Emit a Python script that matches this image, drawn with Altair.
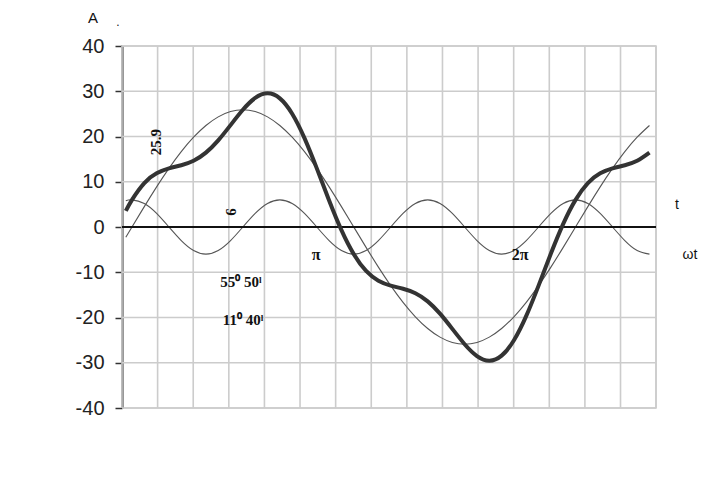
import altair as alt
import pandas as pd

# angle omega*t in degrees (0 = upward zero of the fundamental)
theta = [-5, 0, 10, 20, 30, 40, 50, 60, 70, 80, 90, 100, 110, 120, 130, 140, 150,
         160, 170, 180, 190, 200, 210, 220, 230, 240, 250, 260, 270, 280, 290, 300,
         310, 320, 330, 340, 350, 360, 370, 380, 390, 400, 410, 420]

# fundamental, amplitude 25.9
fundamental = [-2.26, 0, 4.50, 8.86, 12.95, 16.65, 19.84, 22.43, 24.34, 25.51, 25.90,
               25.51, 24.34, 22.43, 19.84, 16.65, 12.95, 8.86, 4.50, 0,
               -4.50, -8.86, -12.95, -16.65, -19.84, -22.43, -24.34, -25.51, -25.90,
               -25.51, -24.34, -22.43, -19.84, -16.65, -12.95, -8.86, -4.50, 0,
               4.50, 8.86, 12.95, 16.65, 19.84, 22.43]

# third harmonic, amplitude 6
third = [5.80, 6, 5.2, 3, 0, -3, -5.2, -6, -5.2, -3, 0, 3, 5.2,
         6, 5.2, 3, 0, -3, -5.2, -6, -5.2, -3, 0, 3, 5.2,
         6, 5.2, 3, 0, -3, -5.2, -6, -5.2, -3, 0, 3, 5.2,
         6, 5.2, 3, 0, -3, -5.2, -6]

# resulting curve
total = [3.54, 6, 9.70, 11.86, 12.95, 13.65, 14.64, 16.43, 19.14, 22.51, 25.90,
         28.51, 29.54, 28.43, 25.04, 19.65, 12.95, 5.86, -0.70, -6,
         -9.70, -11.86, -12.95, -13.65, -14.64, -16.43, -19.14, -22.51, -25.90,
         -28.51, -29.54, -28.43, -25.04, -19.65, -12.95, -5.86, 0.70, 6,
         9.70, 11.86, 12.95, 13.65, 14.64, 16.43]

y_ticks = [-40, -30, -20, -10, 0, 10, 20, 30, 40]
x_grid = [-8.1, 20.8, 49.7, 78.6, 107.5, 136.4, 165.3, 194.2, 223.1, 252.0,
          280.9, 309.8, 338.7, 367.6, 396.5, 425.3]

df = pd.DataFrame({"theta": theta, "fundamental": fundamental,
                   "third": third, "total": total})

xs = alt.Scale(domain=[-8.1, 425.3], nice=False, zero=False)
ys = alt.Scale(domain=[-40, 40], nice=False)

GRID = "#cccccc"

y_axis = alt.Axis(values=y_ticks, title=None, grid=False,
                  domainColor="#333333", domainWidth=2,
                  tickColor="#333333", tickWidth=1.5, tickSize=7,
                  labelFont="Liberation Sans", labelFontSize=20,
                  labelColor="#222222", labelPadding=11,
                  labelExpr="'' + datum.value")

vgrid = alt.Chart(pd.DataFrame({"g": x_grid})).mark_rule(color=GRID, strokeWidth=1.6).encode(
    x=alt.X("g:Q", scale=xs, axis=None))
hgrid = alt.Chart(pd.DataFrame({"g": y_ticks})).mark_rule(color=GRID, strokeWidth=1.6).encode(
    y=alt.Y("g:Q", scale=ys, axis=y_axis))

line_x = alt.X("theta:Q", scale=xs, axis=None)
fund_line = alt.Chart(df).mark_line(color="#555555", strokeWidth=1.1, interpolate="natural").encode(
    x=line_x, y=alt.Y("fundamental:Q", scale=ys, axis=y_axis))
third_line = alt.Chart(df).mark_line(color="#555555", strokeWidth=1.1, interpolate="natural").encode(
    x=line_x, y=alt.Y("third:Q", scale=ys, axis=y_axis))
total_line = alt.Chart(df).mark_line(color="#333333", strokeWidth=4, interpolate="natural").encode(
    x=line_x, y=alt.Y("total:Q", scale=ys, axis=y_axis))

zero_rule = alt.Chart(pd.DataFrame({"z": [0]})).mark_rule(color="#111111", strokeWidth=1.8).encode(
    y=alt.Y("z:Q", scale=ys, axis=y_axis))


def label(txt, px, py, size=15, font="Liberation Serif", weight="bold", angle=0,
          color="#111111"):
    return alt.Chart(pd.DataFrame({"t": [txt]})).mark_text(
        font=font, fontSize=size, fontWeight=weight, angle=angle, color=color,
        align="center", baseline="middle").encode(
        text="t:N", x=alt.value(px), y=alt.value(py))


labels = [
    label("25.9", 34, 96, size=15, angle=270),
    label("6", 109, 166, size=15, angle=270),
    label("π", 194, 209, size=16),
    label("2π", 398, 209, size=16),
    label("55⁰ 50ˡ", 119, 236, size=15),
    label("11⁰ 40ˡ", 121, 274, size=15),
    label("t", 555, 159, size=14, font="Liberation Sans", weight="normal"),
    label("ωt", 568, 209, size=14, font="Liberation Sans", weight="normal"),
    label("A", -29, -28, size=15, font="Liberation Sans", weight="normal"),
    label(".", -4, -24, size=12, font="Liberation Sans", weight="normal"),
]

chart = alt.layer(hgrid, vgrid, fund_line, third_line, zero_rule, total_line, *labels).properties(
    width=534, height=362,
    padding={"left": 114, "top": 38, "right": 49, "bottom": 73},
    autosize=alt.AutoSizeParams(type="none"),
).configure_view(stroke=GRID, strokeWidth=1.6)

chart.save("out.html", embed_options={"renderer": "svg", "actions": False})
